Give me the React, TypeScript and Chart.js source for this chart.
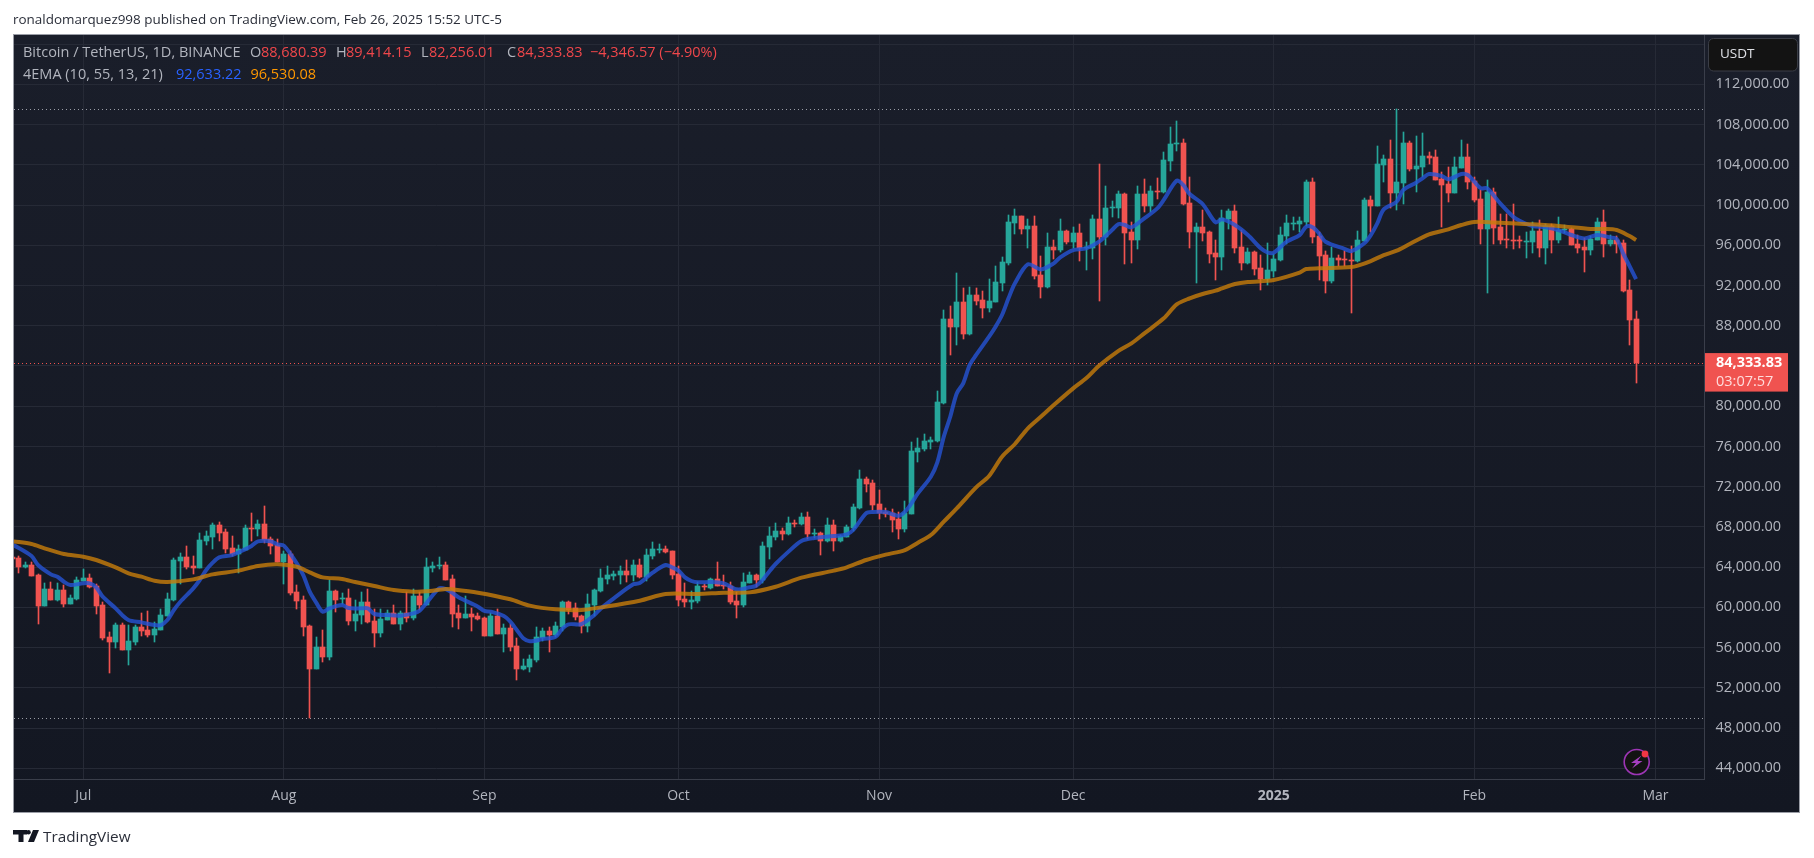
import React, { useEffect, useRef } from "react";
import { Chart, registerables } from "chart.js";

Chart.register(...registerables);

// Candles: one per day, first day is Jun 20 2024 (day -11, Jul 1 2024 = day 0)
const firstDay = -11;
const opens = [
  65040, 64900, 64010, 64210, 63210, 60130, 61820, 60730, 61720, 60330, 60830,
  62620, 62920, 62120, 60230, 57050, 56550, 58240, 55760, 56550, 58050, 57750, 57250, 57750, 59140, 60730, 64610, 65000, 64110, 63910, 66600, 66990, 68190, 67490, 65900, 65300, 65700, 67890, 67790, 68290, 66790, 66200,
  64510, 65300, 61520, 60730, 58140, 53870, 56060, 55060, 61620, 60830, 60930, 58640, 59240, 60530, 58640, 57450, 58740, 59440, 58340, 59440, 58940, 61130, 60230, 63910, 64110, 64210, 62820, 59440, 58940, 59340, 59140,
  58940, 57150, 59140, 57350, 57950, 56160, 53870, 54070, 54760, 56950, 57650, 57250, 58050, 60530, 59930, 59140, 58150, 60230, 61620, 62820, 63120, 63210, 63610, 63210, 64210, 63020, 65100, 65700, 65800, 65600,
  63310, 60830, 60530, 60630, 62120, 61920, 62820, 62220, 62120, 60630, 60230, 62420, 63210, 62720, 66000, 66990, 67590, 67290, 68380, 68290, 68980, 67290, 67390, 66600, 68190, 66600, 66990, 67890, 69880, 72760, 72360,
  70270, 69480, 69380, 68780, 67790, 69280, 75440, 75740, 76440, 76540, 80320, 88660, 87870, 90350, 87170, 91050, 90550, 89760, 90350, 92240, 94230, 98210, 98900, 97610, 97910, 93040, 91850, 95820, 95520, 97410,
  96320, 97210, 95720, 95720, 98600, 96820, 99700, 99700, 101090, 97310, 96520, 101090, 99900, 101390, 101290, 104370, 106060, 106160, 100200, 97310, 97810, 97310, 95230, 94830, 98600, 99400, 95820, 94230, 95320, 93730, 92640,
  93440, 94530, 96910, 98110, 98110, 98310, 102280, 96910, 95020, 92440, 94730, 94630, 94530, 94430, 96420, 100500, 99900, 103980, 104570, 101190, 102180, 106160, 103580, 103780, 104870, 104770, 102580, 102080, 101190, 103680, 104770,
  102380, 100590, 97610, 101290, 97810, 96620, 96520, 96520, 96320, 96320, 97410, 95720, 97910, 96520, 97480, 97610, 96120, 95820, 95520, 96520, 98310, 96120, 96520, 96220, 91550, 88680.39,
];
const highs = [
  65300, 65100, 64470, 64470, 63280, 62420, 62520, 62420, 62220, 61230, 63020,
  63810, 63310, 62320, 60530, 57550, 58440, 58440, 58240, 58240, 59440, 59640, 58540, 59830, 61430, 64910, 65400, 66100, 65100, 67390, 67590, 68380, 68480, 67790, 67090, 66200, 68190, 69380, 68680, 70080, 66990, 66790,
  65600, 65600, 62220, 61130, 58240, 57050, 57750, 62720, 61720, 61430, 61820, 60730, 61520, 61820, 59830, 59830, 59740, 60230, 59640, 61520, 61820, 61520, 64910, 64510, 65000, 64510, 63210, 60230, 61130, 59930, 59440,
  59040, 59440, 59830, 58340, 58340, 56950, 54860, 55260, 58050, 57950, 58050, 58540, 60630, 60630, 60430, 59240, 61330, 61820, 63810, 64110, 63610, 64110, 64710, 64710, 64810, 65800, 66500, 66300, 66100, 65600,
  64110, 62420, 61620, 62520, 62320, 62920, 64510, 63210, 62520, 61520, 63410, 63510, 63310, 66500, 67990, 68380, 67890, 68980, 68680, 69380, 69480, 67790, 67490, 68880, 68680, 67190, 68190, 70270, 73650, 72960, 72660,
  71660, 69880, 69770, 69480, 70570, 76440, 76830, 77230, 76930, 81500, 89560, 89960, 93240, 91750, 91850, 91750, 91450, 92640, 93930, 94830, 99000, 99600, 98900, 98600, 98900, 94930, 97210, 96520, 98600, 97510,
  97810, 98110, 96320, 99000, 104070, 101890, 100400, 101390, 101190, 98310, 101890, 102580, 101890, 102680, 105270, 107750, 108350, 106560, 102780, 98210, 99500, 97410, 96520, 99500, 99600, 100000, 97510, 95720, 95420, 95020, 96220,
  95130, 97810, 99000, 98800, 98800, 102480, 102680, 97310, 95420, 95820, 95020, 95420, 95920, 97410, 100690, 100890, 105860, 104970, 106460, 109510, 107250, 106360, 106860, 107160, 105270, 105470, 103280, 103770, 104770, 106460, 106060,
  102780, 101490, 102480, 101690, 99100, 99100, 100100, 96920, 97310, 98310, 98510, 98110, 98110, 98810, 98010, 97710, 97020, 96720, 96920, 98710, 99500, 97010, 96910, 96520, 92540, 89414.15,
];
const lows = [
  64600, 63450, 63940, 63120, 58340, 60130, 60730, 60630, 60030, 60330, 60730,
  62620, 61920, 59340, 56750, 53470, 55960, 55760, 54270, 56260, 57150, 57050, 56550, 57750, 59140, 60630, 62320, 63810, 63310, 63910, 66200, 65800, 66600, 65400, 65100, 63410, 65700, 66600, 67090, 66400, 65300, 64510,
  62320, 61230, 59830, 57150, 49000, 53870, 54570, 54760, 59540, 60330, 58240, 57650, 58340, 58440, 56060, 57050, 58740, 58340, 57750, 58540, 58740, 59740, 60230, 63510, 63810, 62720, 58050, 57850, 58940, 57650, 58740,
  57150, 57150, 57350, 55560, 55660, 52780, 53770, 53570, 54570, 56650, 55560, 57050, 57650, 59340, 58740, 57450, 57550, 59140, 61520, 62320, 62720, 62320, 62520, 62620, 62920, 62620, 64810, 65400, 65400, 62820,
  60130, 60030, 59830, 60430, 61720, 61820, 62120, 61820, 60330, 58940, 60030, 62420, 62020, 62420, 64810, 66690, 66690, 67190, 67990, 68190, 66790, 66890, 65200, 66500, 65600, 66500, 66990, 67590, 69780, 71470, 69680,
  68780, 68980, 67490, 66790, 67490, 69280, 74450, 75540, 75740, 76440, 80210, 85090, 86080, 86680, 87070, 90060, 88760, 89360, 90350, 91450, 94030, 97110, 97110, 95720, 92640, 90750, 91750, 94630, 95320, 96120,
  95720, 94430, 93540, 94630, 90450, 96020, 98800, 98700, 94130, 94230, 95620, 99300, 99300, 100600, 101190, 103380, 105370, 100000, 95720, 92240, 96420, 94230, 92540, 93540, 97610, 95230, 93530, 94130, 93040, 91550, 92040,
  92840, 94430, 96120, 97510, 97310, 97910, 96220, 92540, 91250, 92240, 93930, 93930, 89260, 94330, 96420, 97310, 99900, 102280, 99700, 99500, 100100, 103380, 101290, 102780, 104070, 102480, 97810, 100300, 101190, 103680, 101590,
  100300, 96120, 91250, 96120, 96120, 95720, 95620, 95720, 94730, 95230, 94830, 94130, 95230, 96220, 97210, 96020, 95230, 93340, 95030, 96490, 94830, 95920, 95220, 91350, 86080, 82256.01,
];
const closes = [
  64810, 64010, 64210, 63120, 60130, 61820, 60730, 61720, 60330, 60930, 62720,
  62920, 62020, 60130, 56950, 56550, 58240, 55760, 56650, 58050, 57650, 57250, 57850, 59240, 60830, 64710, 65000, 64010, 63910, 66690, 67090, 68190, 67390, 65800, 65300, 65800, 67890, 67790, 68290, 66690, 66100, 64510,
  65300, 61430, 60630, 58050, 53870, 56060, 55060, 61620, 60730, 60930, 58640, 59340, 60530, 58540, 57450, 58840, 59440, 58340, 59440, 58940, 61130, 60230, 64010, 64110, 64210, 62720, 59340, 58940, 59340, 59040, 58840,
  57150, 59140, 57350, 57950, 56060, 53870, 54170, 54860, 57050, 57650, 57250, 58150, 60530, 59740, 59040, 58150, 60330, 61720, 62920, 63210, 63310, 63610, 63210, 64210, 63020, 65200, 65800, 65800, 65500, 63210,
  60730, 60530, 60730, 62120, 62020, 62820, 62120, 62120, 60530, 60230, 62520, 63210, 62720, 66100, 67090, 67590, 67290, 68380, 68290, 68980, 67290, 67390, 66600, 68190, 66600, 67090, 67990, 69980, 72760, 72260, 70170,
  69380, 69280, 68680, 67790, 69380, 75540, 75840, 76540, 76630, 80410, 88660, 87870, 90350, 87170, 91050, 90450, 89760, 90450, 92340, 94330, 98310, 98900, 97610, 97910, 92940, 91850, 95820, 95520, 97410, 96320,
  97210, 95720, 95820, 98600, 96820, 99700, 99800, 101090, 97210, 96520, 101090, 99900, 101390, 101290, 104470, 106060, 106160, 100100, 97310, 97810, 97210, 95130, 94830, 98710, 99400, 95720, 94230, 95320, 93630, 92640, 93530,
  94630, 97010, 98210, 98210, 98410, 102280, 96820, 94930, 92440, 94730, 94530, 94530, 94430, 96520, 100500, 99900, 104070, 104570, 101190, 102280, 106160, 103580, 103870, 104870, 104670, 102480, 101990, 101190, 103770, 104770, 102280,
  100500, 97610, 101290, 97710, 96520, 96520, 96420, 96420, 96420, 97410, 95720, 97910, 96520, 97510, 97580, 96020, 95720, 95520, 96620, 98310, 96120, 96520, 96120, 91450, 88560, 84333.83,
];

// EMA lines: day positions and values
const blueDays = [-10.8, -8, -7, -5, -4, -3, -2, 0, 1, 2, 3, 5, 6, 7, 9, 11, 12, 13, 14, 15, 17, 18, 19, 20, 21, 23, 25, 26, 27, 29, 30, 31, 33, 34, 35, 36, 37, 38, 40, 41, 43, 44, 45, 47, 49, 51, 52, 53, 55, 56, 57, 58, 61, 62, 63, 65, 66, 67, 68, 69, 71, 73, 74, 75, 77, 79, 80, 82, 85, 86, 88, 90, 91, 92, 93, 94, 95, 97, 99, 101, 103, 104, 105, 106, 107, 109, 111, 113, 116, 118, 119, 121, 122, 124, 126, 127, 128, 129, 131, 132, 133, 134, 135, 136, 137, 138, 140, 141, 142, 143, 144, 146, 148, 150, 151, 153, 155, 157, 159, 160, 161, 162, 164, 166, 167, 169, 170, 171, 173, 175, 176, 178, 180, 182, 183, 184, 186, 188, 189, 190, 191, 192, 195, 196, 198, 199, 200, 201, 203, 204, 206, 207, 208, 210, 211, 213, 214, 215, 216, 217, 219, 221, 222, 224, 226, 228, 230, 232, 234, 236, 237, 238, 239, 240];
const blueValues = [66200, 65100, 64210, 63280, 63050, 62550, 62220, 62390, 62390, 61990, 61060, 59900, 59240, 58740, 58510, 58240, 58240, 58740, 59740, 60560, 61890, 62720, 63710, 64440, 64970, 65200, 65770, 66100, 66560, 66560, 66260, 66130, 64370, 63210, 61560, 60470, 59570, 59900, 60230, 59930, 59900, 59900, 59340, 59240, 59170, 59400, 59670, 60400, 61890, 61820, 61460, 61000, 60070, 59640, 59570, 59140, 58580, 57750, 56920, 56620, 56850, 57080, 57850, 58310, 58340, 59240, 59900, 60900, 62290, 62420, 63450, 64210, 63980, 63650, 62980, 62620, 62490, 62520, 62390, 61790, 61990, 62150, 62720, 63550, 64310, 65540, 66600, 66890, 67090, 67260, 67690, 69350, 69480, 69480, 69110, 69510, 70340, 71330, 72990, 74410, 76970, 78950, 81270, 82270, 84090, 85090, 86910, 87900, 89060, 90720, 92210, 94100, 93600, 94200, 94800, 95520, 95690, 96350, 97510, 98110, 98010, 97780, 98670, 99660, 100500, 102420, 101990, 101090, 100100, 98280, 98570, 98010, 97010, 95690, 95290, 95260, 96350, 97010, 97840, 97780, 97180, 96350, 95620, 95420, 96190, 97010, 98170, 99560, 100330, 101490, 102220, 102650, 103080, 102880, 102550, 103080, 102980, 102320, 101660, 101660, 100160, 98840, 98440, 97910, 97780, 97510, 97020, 96680, 97010, 96780, 96620, 95190, 93930, 92633.22];
const orangeDays = [-10.8, -8, -6, -3, 0, 2, 5, 7, 9, 11, 13, 17, 20, 24, 27, 30, 33, 35, 37, 40, 42, 45, 48, 51, 53, 56, 57, 61, 66, 69, 73, 77, 80, 86, 90, 95, 99, 103, 107, 111, 116, 118, 121, 124, 127, 129, 131, 133, 135, 138, 140, 142, 144, 146, 148, 150, 153, 155, 157, 160, 162, 164, 167, 169, 171, 173, 175, 176, 178, 180, 184, 188, 189, 191, 196, 197, 199, 201, 203, 205, 208, 211, 213, 215, 218, 222, 224, 228, 233, 235, 237, 239, 240];
const orangeValues = [66560, 66300, 65870, 65300, 65040, 64710, 63980, 63380, 63050, 62650, 62520, 62780, 63280, 63650, 64110, 64280, 64040, 63480, 62980, 62820, 62520, 62120, 61720, 61560, 61590, 61820, 61790, 61460, 60800, 60170, 59800, 59740, 60000, 60660, 61330, 61330, 61460, 61490, 62050, 62950, 63650, 63980, 64710, 65240, 65700, 66430, 67190, 68520, 69840, 71930, 73060, 74980, 76240, 77800, 78950, 80110, 81770, 82770, 84020, 85500, 86250, 87240, 88730, 90120, 90720, 91150, 91480, 91710, 92140, 92340, 92540, 93270, 93630, 93700, 93830, 93970, 94430, 95020, 95460, 96120, 97080, 97580, 98010, 98310, 98270, 98140, 98080, 97910, 97610, 97610, 97510, 96910, 96530.08];

// Axis labels
const monthDays = [0, 31, 62, 92, 123, 153, 184, 215, 243];
const monthLabels = ["Jul", "Aug", "Sep", "Oct", "Nov", "Dec", "2025", "Feb", "Mar"];
const yearDay = 184;
const priceTicks = [44000, 48000, 52000, 56000, 60000, 64000, 68000, 72000, 76000, 80000, 84000, 88000, 92000, 96000, 100000, 104000, 108000, 112000, 116000];
const hiddenPriceTick = 116000;

// Texts
const publishedLine = "ronaldomarquez998 published on TradingView.com, Feb 26, 2025 15:52 UTC-5";
const symbolText = "Bitcoin / TetherUS, 1D, BINANCE";
const ohlcTexts = ["O", "88,680.39", "H", "89,414.15", "L", "82,256.01", "C", "84,333.83", "−4,346.57 (−4.90%)"];
const indicatorText = "4EMA (10, 55, 13, 21)";
const blueText = "92,633.22";
const orangeText = "96,530.08";
const lastPriceText = "84,333.83";
const countdownText = "03:07:57";
const currencyText = "USDT";

const UP = "#26a69a";
const DOWN = "#f05350";
const FONT = '"Open Sans", sans-serif';

const days = opens.map((_, i) => firstDay + i);

const framePlugin = {
  id: "frame",
  beforeDraw(chart: any) {
    const c = chart.ctx;
    c.save();
    c.fillStyle = "#ffffff";
    c.fillRect(0, 0, chart.width, chart.height);
    const g = c.createLinearGradient(0, 34, 0, 813);
    g.addColorStop(0, "#1a1e2a");
    g.addColorStop(1, "#131722");
    c.fillStyle = g;
    c.fillRect(13, 34, 1787, 779);
    c.restore();
  },
  beforeDatasetsDraw(chart: any) {
    // snap candle parts to the pixel grid, like the reference
    [0, 1].forEach((idx) => {
      chart.getDatasetMeta(idx).data.forEach((el: any) => {
        el.x = Math.floor(el.x) + 0.5;
        const top = Math.round(Math.min(el.y, el.base));
        let bot = Math.round(Math.max(el.y, el.base));
        if (bot <= top) bot = top + 1;
        el.y = top;
        el.base = bot;
      });
    });
    // extreme price lines and last price line
    const c = chart.ctx;
    const y = chart.scales.y;
    const area = chart.chartArea;
    const hline = (v: number, color: string) => {
      const py = Math.round(y.getPixelForValue(v)) + 0.5;
      c.save();
      c.strokeStyle = color;
      c.lineWidth = 1;
      c.setLineDash([1, 3]);
      c.beginPath();
      c.moveTo(area.left, py);
      c.lineTo(area.right, py);
      c.stroke();
      c.restore();
    };
    hline(Math.max(...highs), "#9a9da6");
    hline(Math.min(...lows), "#9a9da6");
    hline(closes[closes.length - 1], "#f05350");
  },
  afterDraw(chart: any) {
    const c = chart.ctx;
    const y = chart.scales.y;
    c.save();
    c.textBaseline = "middle";
    c.textAlign = "left";
    // frame border
    c.strokeStyle = "#9a9da6";
    c.lineWidth = 1;
    c.strokeRect(13.5, 34.5, 1786, 778);
    // legend
    c.font = `14.5px ${FONT}`;
    c.fillStyle = "#b2b5be";
    c.fillText(symbolText, 23, 53);
    const xs = [250, 261, 336, 346, 421, 429, 507, 517, 590];
    ohlcTexts.forEach((t, i) => {
      c.fillStyle = i % 2 === 0 && i < 8 ? "#b2b5be" : "#f0474b";
      c.fillText(t, xs[i], 53);
    });
    c.fillStyle = "#b2b5be";
    c.fillText(indicatorText, 23, 75);
    c.fillStyle = "#2962ff";
    c.fillText(blueText, 176, 75);
    c.fillStyle = "#ff9800";
    c.fillText(orangeText, 250.5, 75);
    // currency button
    c.fillStyle = "#131313";
    c.strokeStyle = "#3a3d46";
    c.beginPath();
    c.roundRect(1708.5, 38.5, 89, 32.5, 5);
    c.fill();
    c.stroke();
    c.font = `13.5px ${FONT}`;
    c.fillStyle = "#dfe1e6";
    c.fillText(currencyText, 1720, 54.5);
    // last price tag
    const py = y.getPixelForValue(closes[closes.length - 1]);
    c.fillStyle = "#f05350";
    c.fillRect(1705, py - 9.5, 83, 38.5);
    c.font = `bold 14.5px ${FONT}`;
    c.fillStyle = "#ffffff";
    c.fillText(lastPriceText, 1716, py + 0.5);
    c.font = `14.5px ${FONT}`;
    c.fillStyle = "#ffdcdc";
    c.fillText(countdownText, 1716, py + 19);
    // bolt badge
    c.beginPath();
    c.arc(1636.7, 762, 12.5, 0, Math.PI * 2);
    c.fillStyle = "#131313";
    c.fill();
    c.strokeStyle = "#9c35b5";
    c.lineWidth = 1.6;
    c.stroke();
    c.fillStyle = "#a63fc0";
    c.beginPath();
    c.moveTo(1641.5, 755.5);
    c.lineTo(1631, 763);
    c.lineTo(1636, 763);
    c.lineTo(1632, 768.5);
    c.lineTo(1642.5, 761);
    c.lineTo(1637.5, 761);
    c.closePath();
    c.fill();
    c.beginPath();
    c.arc(1645, 754, 3.4, 0, Math.PI * 2);
    c.fillStyle = "#f23645";
    c.fill();
    c.restore();
  },
};

export default function App() {
  const ref = useRef<HTMLCanvasElement | null>(null);
  useEffect(() => {
    document.body.style.margin = "0";
    document.body.style.background = "#ffffff";
    const chart = new Chart(ref.current as HTMLCanvasElement, {
      type: "bar",
      data: {
        datasets: [
          {
            type: "bar",
            label: "Wick",
            data: days.map((d, i) => ({ x: d, y: [lows[i], highs[i]] })),
            backgroundColor: days.map((_, i) => (closes[i] >= opens[i] ? UP : DOWN)),
            barThickness: 1,
            grouped: false,
            order: 4,
          },
          {
            type: "bar",
            label: "Body",
            data: days.map((d, i) => ({ x: d, y: [opens[i], closes[i]] })),
            backgroundColor: days.map((_, i) => (closes[i] >= opens[i] ? UP : DOWN)),
            barThickness: 5,
            grouped: false,
            order: 3,
          },
          {
            type: "line",
            label: "EMA 10",
            data: blueDays.map((d, i) => ({ x: d, y: blueValues[i] })),
            borderColor: "rgba(38,84,214,0.8)",
            borderWidth: 4,
            pointRadius: 0,
            tension: 0.3,
            order: 2,
          },
          {
            type: "line",
            label: "EMA 55",
            data: orangeDays.map((d, i) => ({ x: d, y: orangeValues[i] })),
            borderColor: "rgba(200,125,10,0.8)",
            borderWidth: 4,
            pointRadius: 0,
            tension: 0.3,
            order: 1,
          },
        ] as any,
      },
      options: {
        responsive: false,
        animation: false,
        events: [],
        devicePixelRatio: 1,
        layout: { padding: { left: 14, top: 34, right: 14, bottom: 45 } },
        plugins: { legend: { display: false }, tooltip: { enabled: false }, title: { display: false } },
        scales: {
          x: {
            type: "linear",
            offset: false,
            min: -10.71,
            max: 250.5,
            afterFit: (s: any) => {
              s.height = 34;
            },
            afterBuildTicks: (s: any) => {
              s.ticks = monthDays.map((v) => ({ value: v }));
            },
            grid: { color: "#262a36", drawTicks: false, offset: false },
            border: { display: true, color: "#3a3e4a" },
            ticks: {
              autoSkip: false,
              maxRotation: 0,
              padding: 9,
              color: "#b2b5be",
              font: (ctx: any) => ({
                family: FONT,
                size: 14,
                weight: ctx.tick && ctx.tick.value === yearDay ? "bold" : "normal",
              }),
              callback: (v: any) => monthLabels[monthDays.indexOf(v)] ?? "",
            },
          },
          y: {
            type: "linear",
            position: "right",
            min: 42936,
            max: 117000,
            afterFit: (s: any) => {
              s.width = 96;
            },
            afterBuildTicks: (s: any) => {
              s.ticks = priceTicks.map((v) => ({ value: v }));
            },
            grid: { color: "#262a36", drawTicks: false },
            border: { display: true, color: "#3a3e4a" },
            ticks: {
              autoSkip: false,
              padding: 11.5,
              color: "#b2b5be",
              font: { family: FONT, size: 14.5 },
              callback: (v: any) =>
                v === hiddenPriceTick ? "" : Number(v).toLocaleString("en-US", { minimumFractionDigits: 2 }),
            },
          },
        },
      },
      plugins: [framePlugin],
    } as any);
    return () => chart.destroy();
  }, []);

  return (
    <div style={{ position: "absolute", left: 0, top: 0, width: 1814, height: 858, overflow: "hidden", background: "#fff" }}>
      <canvas ref={ref} width={1814} height={858} style={{ display: "block", width: 1814, height: 858 }} />
      <div
        style={{
          position: "absolute",
          left: 13,
          top: 9,
          font: `13.45px ${FONT}`,
          lineHeight: "20px",
          color: "#2a2e39",
          whiteSpace: "nowrap",
        }}
      >
        {publishedLine}
      </div>
      <svg style={{ position: "absolute", left: 13, top: 829 }} width="26" height="14" viewBox="0 0 26 14">
        <path d="M0 1h10.5v12H5.5V5.5H0z M0 1h14v4.5H0z" fill="#131722" />
        <circle cx="15.5" cy="3.2" r="2.3" fill="#131722" />
        <path d="M20 1h6l-5 12h-6z" fill="#131722" />
      </svg>
      <div
        style={{
          position: "absolute",
          left: 43,
          top: 825,
          font: `15.3px ${FONT}`,
          lineHeight: "22px",
          color: "#2a2e39",
          whiteSpace: "nowrap",
        }}
      >
        TradingView
      </div>
    </div>
  );
}
